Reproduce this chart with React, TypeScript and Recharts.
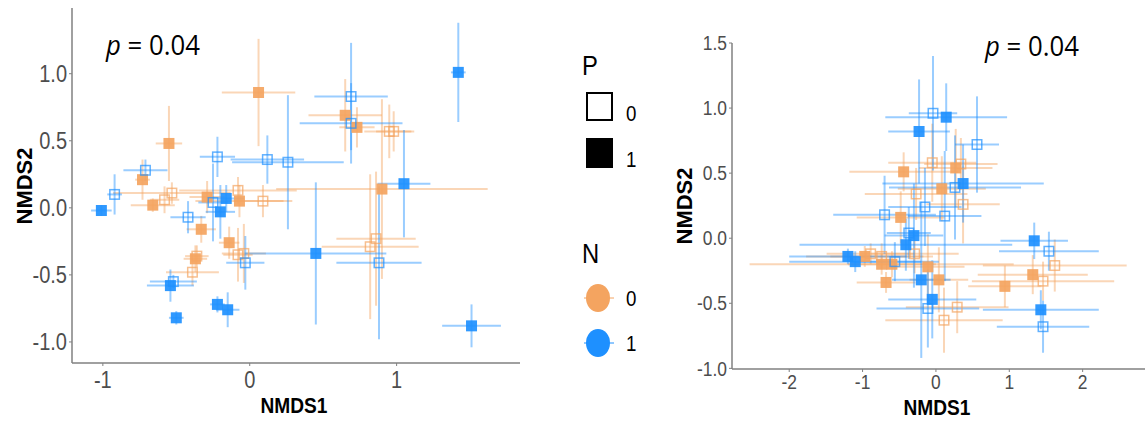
import { ScatterChart, Scatter, XAxis, YAxis, ErrorBar } from "recharts";

// [NMDS1, NMDS2, sd NMDS1, sd NMDS2]
const leftOrangeOpen = [
  [-0.53, 0.11, 0.4, 0.08], [-0.58, 0.06, 0.1, 0.1], [-0.39, -0.48, 0.18, 0.1],
  [-0.36, -0.36, 0.08, 0.08], [-0.08, -0.35, 0.1, 0.2], [-0.04, -0.34, 0.15, 0.22],
  [-0.08, 0.13, 0.4, 0.1], [0.09, 0.05, 0.2, 0.12], [0.95, 0.57, 0.17, 0.2],
  [0.98, 0.57, 0.12, 0.15], [0.82, -0.29, 0.33, 0.54], [0.86, -0.23, 0.27, 0.5],
];
const leftOrangeFilled = [
  [-0.73, 0.21, 0.05, 0.15], [-0.66, 0.02, 0.15, 0.05], [-0.55, 0.48, 0.09, 0.28],
  [-0.33, -0.16, 0.1, 0.1], [-0.37, -0.38, 0.08, 0.1], [-0.14, -0.26, 0.07, 0.12],
  [-0.29, 0.08, 0.12, 0.12], [-0.07, 0.05, 0.3, 0.12], [0.06, 0.86, 0.25, 0.4],
  [0.65, 0.69, 0.25, 0.27], [0.73, 0.6, 0.12, 0.15], [0.9, 0.14, 0.72, 0.67],
];
const leftBlueOpen = [
  [-0.92, 0.1, 0.05, 0.15], [-0.71, 0.28, 0.15, 0.08], [-0.42, -0.07, 0.12, 0.12],
  [-0.52, -0.55, 0.16, 0.05], [-0.03, -0.41, 0.13, 0.2], [-0.22, 0.38, 0.12, 0.15],
  [-0.25, 0.04, 0.1, 0.29], [0.12, 0.36, 0.25, 0.18], [0.26, 0.34, 0.38, 0.5],
  [0.69, 0.83, 0.25, 0.4], [0.69, 0.63, 0.35, 0.3], [0.88, -0.41, 0.29, 0.57],
];
const leftBlueFilled = [
  [-1.01, -0.02, 0.07, 0.04], [-0.54, -0.58, 0.16, 0.12], [-0.5, -0.82, 0.05, 0.05],
  [-0.22, -0.72, 0.05, 0.06], [-0.15, -0.76, 0.08, 0.13], [-0.2, -0.03, 0.1, 0.2],
  [-0.16, 0.07, 0.12, 0.1], [0.45, -0.34, 0.48, 0.53], [1.05, 0.18, 0.18, 0.4],
  [1.42, 1.01, 0.05, 0.37], [1.51, -0.88, 0.2, 0.16],
];

const rightOrangeOpen = [
  [-0.05, 0.58, 0.6, 0.3], [0.34, 0.57, 0.5, 0.2], [-0.27, 0.34, 0.7, 0.2],
  [0.37, 0.26, 0.5, 0.3], [-0.29, -0.12, 0.6, 0.15], [-0.89, -0.12, 0.6, 0.08],
  [-0.74, -0.14, 0.7, 0.1], [0.29, -0.53, 0.7, 0.2], [0.11, -0.63, 0.8, 0.25],
  [1.62, -0.21, 0.98, 0.2], [1.46, -0.33, 0.97, 0.15],
];
const rightOrangeFilled = [
  [-0.44, 0.51, 0.74, 0.15], [0.27, 0.54, 0.5, 0.3], [0.08, 0.38, 0.6, 0.25],
  [-0.48, 0.16, 0.6, 0.2], [-0.97, -0.14, 0.8, 0.08], [-0.74, -0.2, 1.8, 0.08],
  [-0.6, -0.2, 0.6, 0.1], [-0.11, -0.22, 0.5, 0.25], [-0.68, -0.34, 0.4, 0.08],
  [0.04, -0.32, 0.4, 0.25], [1.32, -0.28, 0.75, 0.15], [0.94, -0.37, 0.5, 0.16],
];
const rightBlueOpen = [
  [-0.04, 0.96, 0.33, 0.44], [0.56, 0.72, 0.3, 0.37], [0.26, 0.39, 0.9, 0.4],
  [-0.15, 0.24, 0.5, 0.3], [-0.7, 0.18, 0.7, 0.3], [0.12, 0.17, 0.5, 0.5],
  [-0.37, 0.04, 0.3, 0.2], [-0.56, -0.18, 0.6, 0.15], [-0.11, -0.54, 0.7, 0.3],
  [1.54, -0.1, 0.68, 0.15], [1.46, -0.68, 0.63, 0.2],
];
const rightBlueFilled = [
  [0.14, 0.93, 0.83, 0.26], [-0.23, 0.82, 0.42, 0.4], [0.37, 0.42, 1.1, 0.3],
  [-0.3, 0.02, 0.4, 0.4], [-0.41, -0.05, 1.45, 0.2], [-1.2, -0.14, 0.8, 0.06],
  [-1.1, -0.18, 0.9, 0.08], [-0.2, -0.32, 0.4, 0.6], [-0.05, -0.47, 0.6, 0.3],
  [1.34, -0.02, 0.46, 0.14], [1.43, -0.55, 0.79, 0.15],
];

const leftXTicks = [-1, 0, 1];
const leftYTicks = [-1, -0.5, 0, 0.5, 1];
const rightXTicks = [-2, -1, 0, 1, 2];
const rightYTicks = [-1, -0.5, 0, 0.5, 1, 1.5];

const ORANGE = "#F4A460";
const BLUE = "#1E90FF";
const ORANGE_BAR = "rgba(244,164,96,0.45)";
const BLUE_BAR = "rgba(30,144,255,0.45)";
const AXIS = "#808080";
const FONT = "'Liberation Sans', Arial, sans-serif";
const SQ = 11;

const toPts = (rows: number[][]) => rows.map(([x, y, ex, ey]) => ({ x, y, ex, ey }));

// eslint-disable-next-line @typescript-eslint/no-explicit-any
function YTick({ x, y, payload, size }: any) {
  return (
    <text
      transform={`translate(${x},${y}) scale(0.87,1)`}
      textAnchor="end"
      dy={size * 0.36}
      fontSize={size}
      fontFamily={FONT}
      fill="#4d4d4d"
    >
      {Number(payload.value).toFixed(1)}
    </text>
  );
}

// eslint-disable-next-line @typescript-eslint/no-explicit-any
function XTick({ x, y, payload, size }: any) {
  return (
    <text
      transform={`translate(${x},${y}) scale(0.87,1)`}
      textAnchor="middle"
      dy={size * 0.7}
      fontSize={size}
      fontFamily={FONT}
      fill="#4d4d4d"
    >
      {payload.value}
    </text>
  );
}

function series(rows: number[][], filled: boolean, color: string, bar: string, name: string) {
  return (
    <Scatter
      key={name}
      name={name}
      data={toPts(rows)}
      isAnimationActive={false}
      // eslint-disable-next-line @typescript-eslint/no-explicit-any
      shape={(p: any) =>
        filled ? (
          <rect x={p.cx - SQ / 2} y={p.cy - SQ / 2} width={SQ} height={SQ} fill={color} fillOpacity={0.92} />
        ) : (
          <rect
            x={p.cx - SQ / 2 + 0.75}
            y={p.cy - SQ / 2 + 0.75}
            width={SQ - 1.5}
            height={SQ - 1.5}
            fill="none"
            stroke={color}
            strokeOpacity={0.7}
            strokeWidth={1.5}
          />
        )
      }
    >
      <ErrorBar dataKey="ex" direction="x" width={0} stroke={bar} strokeWidth={2} />
      <ErrorBar dataKey="ey" direction="y" width={0} stroke={bar} strokeWidth={2} />
    </Scatter>
  );
}

function Panel(props: {
  width: number;
  height: number;
  top: number;
  right: number;
  bottom: number;
  tickSize: number;
  xTickMargin: number;
  xDomain: [number, number];
  yDomain: [number, number];
  xTicks: number[];
  yTicks: number[];
  data: number[][][];
}) {
  const { width, height, top, right, bottom, tickSize, xTickMargin, xDomain, yDomain, xTicks, yTicks, data } =
    props;
  return (
    <ScatterChart width={width} height={height} margin={{ top, right, bottom: 0, left: 0 }}>
      <XAxis
        type="number"
        dataKey="x"
        domain={xDomain}
        ticks={xTicks}
        allowDataOverflow
        height={bottom}
        tick={<XTick size={tickSize} />}
        tickSize={3}
        tickMargin={xTickMargin}
        axisLine={{ stroke: AXIS, strokeWidth: 1.5 }}
        tickLine={{ stroke: AXIS }}
      />
      <YAxis
        type="number"
        dataKey="y"
        domain={yDomain}
        ticks={yTicks}
        allowDataOverflow
        width={72}
        tick={<YTick size={tickSize} />}
        tickSize={3}
        tickMargin={2}
        axisLine={{ stroke: AXIS, strokeWidth: 1.5 }}
        tickLine={{ stroke: AXIS }}
      />
      {series(data[0], false, ORANGE, ORANGE_BAR, "oo")}
      {series(data[1], true, ORANGE, ORANGE_BAR, "of")}
      {series(data[2], false, BLUE, BLUE_BAR, "bo")}
      {series(data[3], true, BLUE, BLUE_BAR, "bf")}
    </ScatterChart>
  );
}

export default function App() {
  return (
    <div style={{ position: "absolute", left: 0, top: 0, width: 1145, height: 421, background: "#fff" }}>
      <div style={{ position: "absolute", left: 0, top: 0 }}>
        <Panel
          width={530}
          height={421}
          top={8}
          right={10}
          bottom={58}
          tickSize={23}
          xTickMargin={6}
          xDomain={[-1.21, 1.84]}
          yDomain={[-1.157, 1.49]}
          xTicks={leftXTicks}
          yTicks={leftYTicks}
          data={[leftOrangeOpen, leftOrangeFilled, leftBlueOpen, leftBlueFilled]}
        />
      </div>
      <div style={{ position: "absolute", left: 660, top: 0 }}>
        <Panel
          width={485}
          height={421}
          top={43}
          right={0}
          bottom={52}
          tickSize={20}
          xTickMargin={3}
          xDomain={[-2.78, 2.85]}
          yDomain={[-1.005, 1.5]}
          xTicks={rightXTicks}
          yTicks={rightYTicks}
          data={[rightOrangeOpen, rightOrangeFilled, rightBlueOpen, rightBlueFilled]}
        />
      </div>
      <svg
        width={1145}
        height={421}
        style={{ position: "absolute", left: 0, top: 0, pointerEvents: "none" }}
      >
        <g fontFamily={FONT} fontWeight="bold" fontSize={22} fill="#000">
          <text transform="translate(294,413) scale(0.87,1)" textAnchor="middle">NMDS1</text>
          <text transform="translate(32,186) rotate(-90)" textAnchor="middle">NMDS2</text>
          <text transform="translate(937,415) scale(0.87,1)" textAnchor="middle">NMDS1</text>
          <text transform="translate(692,206) rotate(-90)" textAnchor="middle">NMDS2</text>
        </g>
        <g fontFamily="'Open Sans', sans-serif" fontSize={28} fill="#000">
          <text transform="translate(106,55) scale(0.92,1)">
            <tspan fontStyle="italic">p</tspan> = 0.04
          </text>
          <text transform="translate(985,56) scale(0.92,1)">
            <tspan fontStyle="italic">p</tspan> = 0.04
          </text>
        </g>
        <g fontFamily={FONT} fill="#000">
          <text transform="translate(582,75) scale(0.85,1)" fontSize={28}>P</text>
          <rect x={587} y={93} width={25} height={27} fill="#fff" stroke="#000" strokeWidth={2} />
          <text transform="translate(626,121) scale(0.85,1)" fontSize={22}>0</text>
          <rect x={586} y={138} width={27} height={30} fill="#000" />
          <text transform="translate(626,167) scale(0.85,1)" fontSize={22}>1</text>
          <text transform="translate(582,263) scale(0.85,1)" fontSize={28}>N</text>
          <line x1={584} x2={614} y1={298} y2={298} stroke={ORANGE} strokeWidth={1} />
          <ellipse cx={598} cy={298} rx={12} ry={14} fill={ORANGE} />
          <text transform="translate(626,306) scale(0.85,1)" fontSize={22}>0</text>
          <line x1={584} x2={614} y1={343} y2={343} stroke={BLUE} strokeWidth={1} />
          <ellipse cx={598} cy={343} rx={12} ry={14} fill={BLUE} />
          <text transform="translate(626,351) scale(0.85,1)" fontSize={22}>1</text>
        </g>
      </svg>
    </div>
  );
}
